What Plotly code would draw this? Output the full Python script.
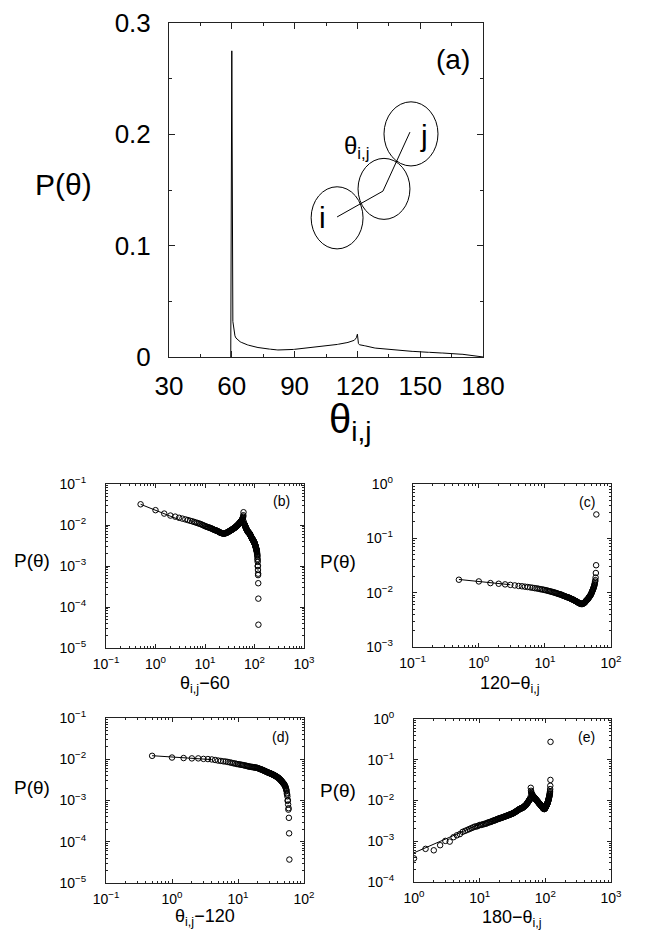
import numpy as np
import plotly.graph_objects as go

# ---------------- data ----------------
# histogram bin centres (degrees), 0.5 degree bins; bin 59.5 is empty
theta = np.arange(59.5, 180.5, 0.5)
P = [
    0.0,
    0.275, 0.032, 0.023, 0.019, 0.017, 0.0160, 0.0150, 0.0143, 0.0137, 0.0132,
    0.0127, 0.0123, 0.0119, 0.0115, 0.0112, 0.0109, 0.0106, 0.0103, 0.0100, 0.0097,
    0.0094, 0.0092, 0.0090, 0.0088, 0.0087, 0.0085, 0.0084, 0.0082, 0.0081, 0.0079,
    0.0077, 0.0076, 0.0075, 0.0074, 0.0073, 0.0072, 0.0071, 0.0070, 0.0068, 0.0067,
    0.0066, 0.0065, 0.0064, 0.0064, 0.0063, 0.0063, 0.0062, 0.0062, 0.0062, 0.0062,
    0.0062, 0.0063, 0.0063, 0.0064, 0.0064, 0.0065, 0.0066, 0.0066, 0.0067, 0.0068,
    0.0069, 0.0070, 0.0070, 0.0071, 0.0072, 0.0073, 0.0074, 0.0075, 0.0075, 0.0076,
    0.0077, 0.0078, 0.0079, 0.0080, 0.0081, 0.0082, 0.0082, 0.0083, 0.0084, 0.0085,
    0.0086, 0.0087, 0.0088, 0.0089, 0.0091, 0.0092, 0.0093, 0.0094, 0.0095, 0.0096,
    0.0098, 0.0099, 0.0100, 0.0102, 0.0103, 0.0104, 0.0106, 0.0107, 0.0109, 0.0110,
    0.0112, 0.0113, 0.0115, 0.0116, 0.0118, 0.0120, 0.0121, 0.0123, 0.0125, 0.0127,
    0.0129, 0.0131, 0.0133, 0.0136, 0.0139, 0.0142, 0.0146, 0.0150, 0.0161, 0.0173,
    0.0205, 0.0121, 0.0110, 0.0107, 0.0105, 0.0105, 0.0102, 0.0101, 0.0099, 0.0096,
    0.0093, 0.0091, 0.0089, 0.0088, 0.0086, 0.0084, 0.0082, 0.0080, 0.0079, 0.0077,
    0.0076, 0.0075, 0.0074, 0.0073, 0.0072, 0.0071, 0.0070, 0.0069, 0.0068, 0.0067,
    0.0066, 0.0066, 0.0065, 0.0065, 0.0064, 0.0064, 0.0063, 0.0063, 0.0062, 0.0062,
    0.0061, 0.0060, 0.0059, 0.0058, 0.0057, 0.0057, 0.0056, 0.0055, 0.0054, 0.0053,
    0.0053, 0.0052, 0.0051, 0.0050, 0.0050, 0.0049, 0.0048, 0.0048, 0.0047, 0.0047,
    0.0046, 0.0046, 0.0045, 0.0045, 0.0044, 0.0044, 0.0043, 0.0043, 0.0042, 0.0042,
    0.0041, 0.0041, 0.0040, 0.0040, 0.0039, 0.0039, 0.0038, 0.0038, 0.0037, 0.0037,
    0.0036, 0.0036, 0.0035, 0.0035, 0.0034, 0.0033, 0.0033, 0.0032, 0.0032, 0.0031,
    0.0030, 0.0030, 0.0029, 0.0029, 0.0028, 0.0027, 0.0027, 0.0026, 0.0026, 0.0025,
    0.0025, 0.0024, 0.0023, 0.0023, 0.0022, 0.0021, 0.0020, 0.0019, 0.0018, 0.0017,
    0.0015, 0.0014, 0.00126, 0.00098, 0.00102, 0.00080, 0.00060, 0.00065, 0.00038, 0.00016,
    0.000037,
]
P = np.array(P)

# power-law guide lines drawn in the log-log insets
fit_b_x, fit_b_y = [0.5, 3.0], [0.032, 0.0135]
fit_c_x, fit_c_y = [0.5, 3.0], [0.0175, 0.0140]
fit_d_x, fit_d_y = [0.5, 4.0], [0.0122, 0.0098]
fit_e_x, fit_e_y = [1.0, 20.0], [0.00052, 0.0043]

# tick labels
a_xticks = [30, 60, 90, 120, 150, 180]
a_yticks = [0, 0.1, 0.2, 0.3]
a_yticktext = ["0", "0.1", "0.2", "0.3"]


def pow_labels(exps):
    return [f"10<sup>{'−' + str(-e) if e < 0 else e}</sup>" for e in exps]


# ---------------- figure ----------------
W, H = 649, 930
FONT = "Liberation Sans, Arial, Helvetica, sans-serif"
LC = "#222222"


def px(x):
    return x / W


def py(y):
    return 1 - y / H


fig = go.Figure()

# (a) linear plot
fig.add_trace(go.Scatter(x=theta, y=P, mode="lines",
                         line=dict(color="black", width=1),
                         xaxis="x", yaxis="y", showlegend=False))

mask = P > 0
th = theta[mask]
pp = P[mask]

panels = [
    ("b", th - 60, pp, "x2", "y2", (fit_b_x, fit_b_y)),
    ("c", 120 - th, pp, "x3", "y3", (fit_c_x, fit_c_y)),
    ("d", th - 120, pp, "x4", "y4", (fit_d_x, fit_d_y)),
    ("e", 180 - th, pp, "x5", "y5", (fit_e_x, fit_e_y)),
]
for name, xv, yv, xa, ya, (fx, fy) in panels:
    keep = xv > 0
    fig.add_trace(go.Scatter(x=fx, y=fy, mode="lines",
                             line=dict(color="black", width=1),
                             xaxis=xa, yaxis=ya, showlegend=False))
    fig.add_trace(go.Scatter(x=xv[keep], y=yv[keep], mode="markers",
                             marker=dict(symbol="circle-open", size=5.5,
                                         color="black", line=dict(width=1)),
                             xaxis=xa, yaxis=ya, showlegend=False))

common = dict(showline=True, linecolor=LC, linewidth=1, mirror="ticks",
              ticks="inside", tickcolor=LC, showgrid=False, zeroline=False,
              automargin=False,
              tickfont=dict(family=FONT, color="black"))

layout_axes = {}
layout_axes["xaxis"] = dict(common, domain=[px(169), px(483)], range=[30, 180],
                            tickvals=a_xticks, ticklen=6,
                            minor=dict(ticks="inside", ticklen=3, dtick=15, tick0=30, tickcolor=LC),
                            tickfont=dict(family=FONT, size=26, color="black"),
                            anchor="y", ticklabelstandoff=6)
layout_axes["yaxis"] = dict(common, domain=[py(357), py(23)], range=[0, 0.3],
                            tickvals=a_yticks, ticktext=a_yticktext, ticklen=6,
                            minor=dict(ticks="inside", ticklen=3, dtick=0.05, tick0=0, tickcolor=LC),
                            tickfont=dict(family=FONT, size=26, color="black"),
                            anchor="x", ticklabelstandoff=12)


def log_axis(domain, rng, anchor, standoff):
    exps = list(range(rng[0], rng[1] + 1))
    return dict(common, type="log", domain=domain, range=rng,
                tickvals=[10.0 ** e for e in exps], ticktext=pow_labels(exps),
                ticklen=4,
                minor=dict(ticks="inside", ticklen=2, dtick="D1", tickcolor=LC),
                tickfont=dict(family=FONT, size=14, color="black"),
                anchor=anchor, ticklabelstandoff=standoff)


layout_axes["xaxis2"] = log_axis([px(106), px(304)], [-1, 3], "y2", 3)
layout_axes["yaxis2"] = log_axis([py(648), py(484)], [-5, -1], "x2", 16)
layout_axes["xaxis3"] = log_axis([px(412.7), px(611)], [-1, 2], "y3", 3)
layout_axes["yaxis3"] = log_axis([py(647), py(484)], [-3, 0], "x3", 16)
layout_axes["xaxis4"] = log_axis([px(106), px(304)], [-1, 2], "y4", 3)
layout_axes["yaxis4"] = log_axis([py(883), py(718)], [-5, -1], "x4", 16)
layout_axes["xaxis5"] = log_axis([px(414), px(611)], [0, 3], "y5", 3)
layout_axes["yaxis5"] = log_axis([py(882), py(719)], [-4, 0], "x5", 16)

ann = []


def txt(x, y, s, size, xref="paper", yref="paper"):
    if xref == "paper":
        x, y = px(x), py(y)
    ann.append(dict(x=x, y=y, xref=xref, yref=yref, text=s, showarrow=False,
                    font=dict(family=FONT, size=size, color="black"),
                    xanchor="center", yanchor="middle"))


# panel (a) texts
txt(63, 184, "P(θ)", 30)
txt(350, 422, "θ<sub>i,j</sub>", 40)
txt(453, 60, "(a)", 28)
# schematic labels (data coordinates of panel a)
txt(103.1, 0.125, "i", 30, "x", "y")
txt(151.8, 0.199, "j", 30, "x", "y")
txt(119.5, 0.188, "θ<sub>i,j</sub>", 24, "x", "y")

# small panels
txt(32, 560, "P(θ)", 19)
txt(338, 561, "P(θ)", 19)
txt(32, 787, "P(θ)", 19)
txt(338, 790, "P(θ)", 19)
txt(205, 684, "θ<sub>i,j</sub>−60", 18)
txt(510, 684, "120−θ<sub>i,j</sub>", 18)
txt(205, 917, "θ<sub>i,j</sub>−120", 18)
txt(512, 918, "180−θ<sub>i,j</sub>", 18)
txt(281.7, 501, "(b)", 14)
txt(586.7, 501.7, "(c)", 14)
txt(280, 736.7, "(d)", 14)
txt(586.7, 737.3, "(e)", 14)

# schematic of three touching particles in panel (a)
shapes = []
for cx, cy, rx, ry in [(110.3, 0.125, 12.4, 0.0279),
                       (132.7, 0.151, 12.4, 0.0274),
                       (145.6, 0.2004, 12.9, 0.0288)]:
    shapes.append(dict(type="circle", xref="x", yref="y",
                       x0=cx - rx, x1=cx + rx, y0=cy - ry, y1=cy + ry,
                       line=dict(color="black", width=1)))
shapes.append(dict(type="path", xref="x", yref="y",
                   path="M 110.3 0.1258 L 132.2 0.149 L 145.1 0.202",
                   line=dict(color="black", width=1)))

fig.update_layout(width=W, height=H, margin=dict(l=0, r=0, t=0, b=0),
                  paper_bgcolor="white", plot_bgcolor="white",
                  annotations=ann, shapes=shapes, showlegend=False,
                  **layout_axes)

fig.write_html("out.html")
